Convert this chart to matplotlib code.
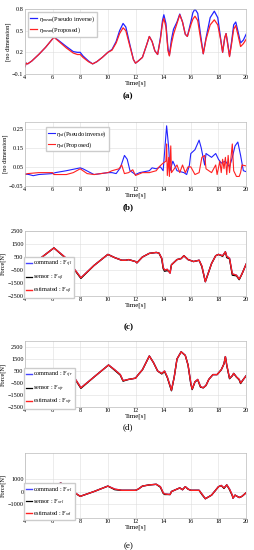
import matplotlib.pyplot as plt
import numpy as np

plt.rcParams['font.family'] = ['Liberation Serif', 'DejaVu Serif']
plt.rcParams['mathtext.fontset'] = 'custom'
plt.rcParams['mathtext.rm'] = 'Liberation Serif'
plt.rcParams['mathtext.it'] = 'Liberation Serif:italic'

# (a) mean index
t_a = [4.0, 4.1, 4.2, 4.5, 5.0, 5.5, 5.8, 6.1, 6.4, 7.0, 7.5, 7.8, 8.0, 8.2, 8.6, 8.9, 9.2, 9.6,
       10.0, 10.3, 10.6, 10.85, 11.1, 11.3, 11.6, 11.85, 12.0, 12.2, 12.5, 12.8, 13.0, 13.2, 13.4,
       13.6, 13.8, 13.95, 14.05, 14.2, 14.35, 14.45, 14.6, 14.75, 15.0, 15.2, 15.4, 15.6, 15.75,
       16.0, 16.15, 16.3, 16.5, 16.7, 16.9, 17.1, 17.4, 17.7, 17.95, 18.15, 18.3, 18.45, 18.55,
       18.65, 18.8, 18.95, 19.1, 19.25, 19.4, 19.6, 19.8, 20.0]
mean_pinv = [0.00, 0.05, 0.04, 0.08, 0.17, 0.27, 0.34, 0.41, 0.37, 0.28, 0.21, 0.20, 0.20, 0.15,
             0.08, 0.04, 0.07, 0.13, 0.20, 0.24, 0.35, 0.50, 0.60, 0.55, 0.30, 0.10, 0.05, 0.08,
             0.13, 0.30, 0.42, 0.35, 0.22, 0.17, 0.40, 0.64, 0.72, 0.60, 0.25, 0.16, 0.38, 0.52,
             0.62, 0.73, 0.62, 0.45, 0.42, 0.62, 0.75, 0.80, 0.74, 0.45, 0.18, 0.40, 0.68, 0.77,
             0.68, 0.40, 0.20, 0.40, 0.46, 0.35, 0.15, 0.35, 0.58, 0.62, 0.50, 0.33, 0.37, 0.45]
mean_prop = [0.00, 0.05, 0.04, 0.08, 0.17, 0.27, 0.34, 0.41, 0.36, 0.26, 0.19, 0.17, 0.17, 0.13,
             0.07, 0.04, 0.07, 0.13, 0.20, 0.23, 0.33, 0.46, 0.54, 0.50, 0.28, 0.10, 0.05, 0.08,
             0.13, 0.30, 0.42, 0.35, 0.22, 0.17, 0.38, 0.60, 0.67, 0.55, 0.22, 0.15, 0.32, 0.45,
             0.60, 0.72, 0.62, 0.45, 0.42, 0.58, 0.66, 0.70, 0.64, 0.40, 0.18, 0.38, 0.58, 0.65,
             0.58, 0.38, 0.20, 0.40, 0.46, 0.33, 0.14, 0.32, 0.52, 0.57, 0.45, 0.28, 0.32, 0.38]

# (b) standard deviation index
t_b1 = [4.0, 4.3, 4.6, 5.0, 6.0, 6.2, 7.0, 8.0, 8.2, 9.0, 9.5, 10.0, 10.3, 10.6, 10.9, 11.2, 11.4,
        11.6, 12.0, 12.3, 13.0, 13.2, 13.5, 13.8, 14.0, 14.25, 14.4, 14.5, 14.7, 15.0, 15.5, 15.7,
        15.9, 16.0, 16.3, 16.6, 16.75, 17.0, 17.1, 17.5, 17.8, 18.0, 18.2, 18.5, 18.8, 19.0, 19.2,
        19.4, 19.6, 19.8, 20.0]
sd_pinv = [0.013, 0.01, 0.004, 0.01, 0.015, 0.02, 0.03, 0.045, 0.04, 0.01, 0.015, 0.02, 0.02,
           0.015, 0.045, 0.11, 0.09, 0.03, 0.01, 0.02, 0.03, 0.045, 0.04, 0.05, 0.03, 0.265, 0.15,
           0.03, 0.08, 0.03, 0.02, 0.01, 0.06, 0.12, 0.14, 0.19, 0.15, 0.06, 0.12, 0.10, 0.12,
           0.09, 0.07, 0.08, 0.05, 0.10, 0.16, 0.18, 0.11, 0.03, 0.025]
t_b2 = [4.0, 4.2, 5.0, 6.0, 6.1, 7.0, 7.5, 8.0, 8.5, 9.0, 10.0, 10.3, 10.8, 11.0, 11.2, 11.5,
        11.8, 12.0, 12.5, 13.0, 13.5, 13.7, 14.0, 14.2, 14.25, 14.3, 14.4, 14.45, 14.55, 14.6,
        14.8, 15.0, 15.2, 15.4, 15.6, 15.8, 16.0, 16.3, 16.6, 16.8, 17.0, 17.1, 17.5, 17.8, 17.9,
        18.1, 18.2, 18.3, 18.4, 18.5, 18.6, 18.7, 18.8, 19.0, 19.1, 19.3, 19.5, 19.6, 19.7, 20.0]
sd_prop = [0.01, 0.015, 0.02, 0.02, 0.01, 0.01, 0.02, 0.04, 0.015, 0.01, 0.02, 0.03, 0.04, 0.06,
           0.015, 0.02, 0.035, 0.005, 0.02, 0.02, 0.03, 0.05, 0.07, 0.08, 0.17, 0.005, 0.10, 0.0,
           0.16, 0.02, 0.04, 0.06, 0.02, 0.06, 0.02, 0.05, 0.05, 0.01, 0.02, 0.10, 0.11, 0.04,
           0.02, 0.06, 0.01, 0.08, 0.02, 0.09, 0.04, 0.10, 0.01, 0.11, 0.02, 0.17, 0.03, 0.0, 0.0,
           0.02, 0.06, 0.055]

# (c) force F_xfl
t_c = [4.0, 4.15, 5.0, 6.1, 7.0, 8.05, 9.0, 10.0, 10.5, 11.0, 11.3, 11.5, 12.0, 12.1, 12.5, 13.0,
       13.5, 13.7, 13.9, 14.0, 14.1, 14.3, 14.5, 14.6, 15.0, 15.3, 15.5, 15.8, 16.2, 16.6, 16.8,
       17.05, 17.5, 17.8, 18.0, 18.3, 18.5, 18.6, 18.8, 19.0, 19.3, 19.5, 19.7, 20.0]
f_est_c = [300, -200, 300, 1200, 400, -1100, -150, 700, 450, 250, 250, 300, 150, 50, 500, 780,
           850, 800, 400, -300, -500, -450, -750, -100, 300, 380, 600, 300, 150, 250, -200,
           -1400, 0, 600, 700, 600, 900, 550, 400, -800, -900, -1200, -800, -50]
f_sen_c = [300, -200, 300, 1200, 350, -1150, -150, 700, 450, 250, 250, 300, 150, 50, 500, 780,
           850, 800, 350, -400, -600, -550, -650, -100, 300, 380, 600, 300, 150, 250, -250,
           -1400, 0, 600, 700, 550, 900, 450, 350, -900, -950, -1250, -800, -50]
f_cmd_c = f_est_c

# (d) force F_xfr
t_d = [4.0, 4.15, 5.0, 6.0, 6.5, 7.0, 7.5, 8.05, 9.0, 10.05, 10.5, 10.9, 11.1, 11.5, 12.0, 12.2,
       12.5, 13.0, 13.3, 13.6, 13.9, 14.1, 14.3, 14.6, 14.8, 15.0, 15.3, 15.6, 15.8, 16.0, 16.1,
       16.3, 16.5, 16.7, 16.9, 17.1, 17.3, 17.6, 17.9, 18.2, 18.4, 18.5, 18.6, 18.8, 19.0, 19.1,
       19.3, 19.5, 19.6, 19.8, 20.0]
f_est_d = [400, -200, 200, 550, 550, 400, 100, -900, 0, 1000, 600, 200, -300, -200, -100, 200,
           600, 1750, 1200, 500, 300, 500, 0, -1100, 0, 1500, 2100, 1800, 1000, -500, -1000,
           -400, -200, -800, -900, -700, -200, 200, 200, 600, 1100, 1700, 1000, -100, 100, 300,
           0, -200, -500, -200, 100]
f_sen_d = [400, -200, 200, 550, 550, 350, 50, -950, 0, 1000, 550, 150, -350, -200, -100, 200,
           600, 1750, 1200, 500, 250, 450, -50, -1150, 0, 1500, 2100, 1800, 1000, -600, -1050,
           -400, -250, -850, -900, -700, -200, 200, 200, 600, 1100, 1700, 950, -150, 100, 300,
           0, -250, -550, -200, 100]
f_cmd_d = f_est_d

# (e) force F_xrl
t_e = [4.0, 4.15, 5.0, 6.0, 6.6, 7.0, 7.5, 8.0, 9.0, 10.0, 10.5, 11.0, 12.0, 12.2, 12.5, 13.0,
       13.5, 13.8, 14.0, 14.1, 14.5, 14.6, 15.0, 15.2, 15.4, 15.6, 15.8, 16.0, 16.6, 16.8, 17.05,
       17.5, 18.0, 18.2, 18.4, 18.6, 18.8, 19.0, 19.05, 19.2, 19.5, 19.7, 20.0]
f_est_e = [200, -100, 0, 400, 700, 400, 0, -400, 0, 450, 200, 100, 100, 200, 450, 550, 600, 400,
           -100, -200, -250, 0, 200, 300, 150, 400, 200, 100, 100, -200, -600, -300, 400, 500,
           300, 550, 200, -300, -550, -300, -500, -400, -100]
f_sen_e = [200, -100, 0, 400, 700, 350, -50, -400, 0, 450, 150, 100, 100, 200, 450, 550, 600, 350,
           -150, -250, -250, 0, 200, 300, 150, 400, 200, 100, 100, -250, -600, -300, 400, 500,
           250, 550, 150, -350, -550, -300, -500, -400, -100]
f_cmd_e = f_est_e

fig = plt.figure(figsize=(2.54, 5.5), dpi=100)
FS = 4.5
L, W = 0.098, 0.871


def style(ax, ylim, yticks, ylabel):
    ax.set_xlim(4, 20)
    ax.set_xticks(np.arange(4, 21, 2))
    ax.set_ylim(*ylim)
    ax.set_yticks(yticks)
    ax.grid(True, color='#dddddd', linewidth=0.4)
    ax.set_axisbelow(True)
    for s in ax.spines.values():
        s.set_color('#bbbbbb')
        s.set_linewidth(0.5)
    ax.tick_params(labelsize=FS, length=0, pad=1)
    ax.set_xlabel('Time[s]', fontsize=FS + 0.5, labelpad=0)
    ax.set_ylabel(ylabel, fontsize=FS, labelpad=1)


# (a)
ax = fig.add_axes([L, 1 - 74 / 550, W, 65 / 550])
ax.plot(t_a, mean_pinv, color='#2222ff', lw=0.9, label=r'$\eta_{mean}$(Pseudo inverse)')
ax.plot(t_a, mean_prop, color='#ff2222', lw=0.9, label=r'$\eta_{mean}$(Proposed)')
style(ax, (-0.1, 0.8), [-0.1, 0.2, 0.5, 0.8], '[no dimension]')
ax.legend(loc='upper left', fontsize=FS, handlelength=1.2, handletextpad=0.2,
          borderpad=0.3, labelspacing=0.2, framealpha=1, edgecolor='#cccccc', fancybox=False)
fig.text(0.505, 1 - 96 / 550, '(a)', ha='center', va='center', fontsize=6.5, fontweight='bold')

# (b)
ax = fig.add_axes([L, 1 - 186 / 550, W, 64 / 550])
ax.plot(t_b1, sd_pinv, color='#2222ff', lw=0.8, label=r'$\eta_{sd}$(Pseudo inverse)')
ax.plot(t_b2, sd_prop, color='#ff2222', lw=0.8, label=r'$\eta_{sd}$(Proposed)')
style(ax, (-0.05, 0.285), [-0.05, 0.05, 0.15, 0.25], '[no dimension]')
ax.legend(loc='upper left', bbox_to_anchor=(0.08, 0.97), fontsize=FS, handlelength=1.2,
          handletextpad=0.2, borderpad=0.3, labelspacing=0.2, framealpha=1,
          edgecolor='#cccccc', fancybox=False)
fig.text(0.505, 1 - 207 / 550, '(b)', ha='center', va='center', fontsize=6.5, fontweight='bold')

# force panels
panels = [
    (t_c, f_cmd_c, f_sen_c, f_est_c, 'xfl', 296, 65, (-2500, 2500),
     [-2500, -1500, -500, 500, 1500, 2500], '(c)', 327, 'bold'),
    (t_d, f_cmd_d, f_sen_d, f_est_d, 'xfr', 407, 66, (-2500, 3000),
     [-2500, -1500, -500, 500, 1500, 2500], '(d)', 427, 'normal'),
    (t_e, f_cmd_e, f_sen_e, f_est_e, 'xrl', 518, 65, (-2200, 3200),
     [-1000, 0, 1000], '(e)', 546, 'normal'),
]
for t, fc, fs, fe, sub, bot, h, ylim, yt, tag, ty, wt in panels:
    ax = fig.add_axes([L, 1 - bot / 550, W, h / 550])
    ax.plot(t, fc, color='#4444ff', lw=1.0, label='command : F$_{%s}$' % sub)
    ax.plot(t, fs, color='black', lw=0.9, label='sensor : F$_{%s}$' % sub)
    ax.plot(t, fe, color='#ff2222', lw=1.0, label='estimated : F$_{%s}$' % sub)
    style(ax, ylim, yt, 'Force[N]')
    ax.legend(loc='lower left', bbox_to_anchor=(-0.005, -0.03), fontsize=FS, handlelength=1.0,
              handletextpad=0.2, borderpad=0.3, labelspacing=0.5, framealpha=1,
              edgecolor='#cccccc', fancybox=False, borderaxespad=0)
    fig.text(0.505, 1 - ty / 550, tag, ha='center', va='center', fontsize=6.5, fontweight=wt)

fig.savefig('out.png', dpi=100)
